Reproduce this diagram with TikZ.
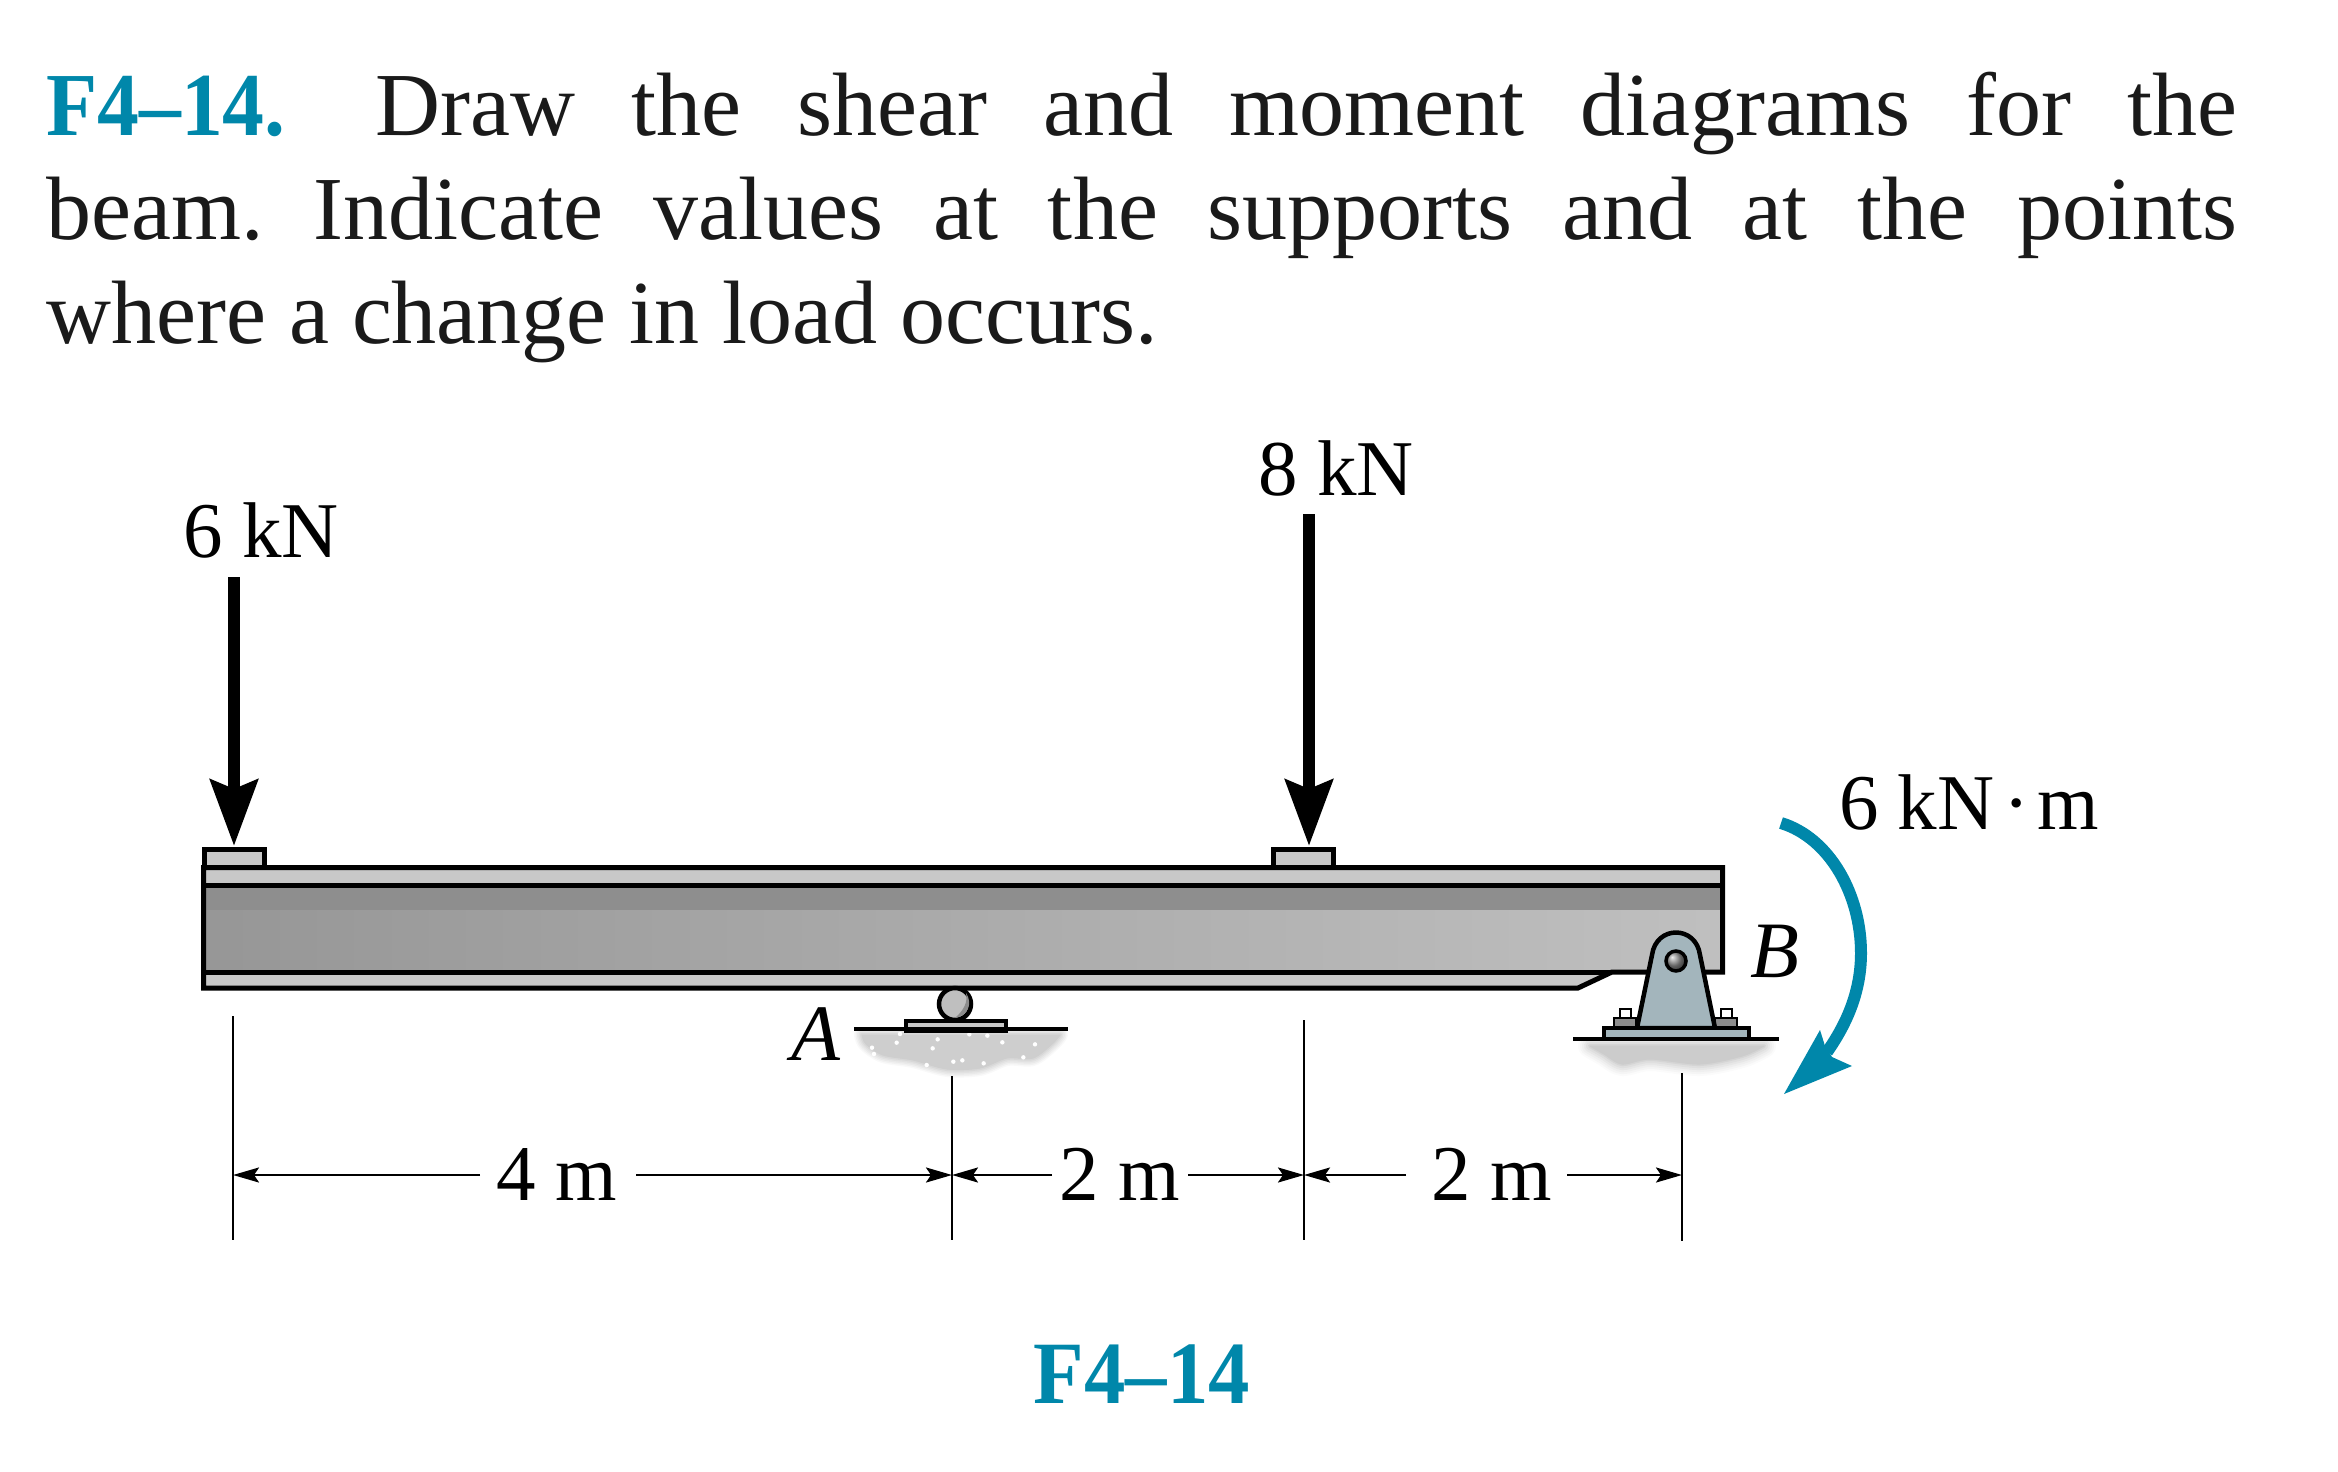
\documentclass[tikz,border=0pt]{standalone}
\usepackage{fontspec}
\setmainfont{Liberation Serif}
\newfontface\boldcond[FakeStretch=0.93]{Liberation Serif Bold}
\usetikzlibrary{arrows.meta,calc}
\definecolor{teal1}{HTML}{0087AA}
\definecolor{ink}{HTML}{1A1A1A}
\definecolor{flange}{HTML}{C8C8C8}
\definecolor{band}{HTML}{8E8E8E}
\definecolor{steel}{HTML}{A3B5BC}
\definecolor{soil}{HTML}{C9C9C9}
\tikzset{
  txt/.style={anchor=base,inner sep=0pt,font=\fontsize{79}{90}\selectfont,text=black},
  titleline/.style={anchor=base west,inner sep=0pt,font=\fontsize{90}{104}\selectfont\frenchspacing,text=ink},
  ital/.style={anchor=base,inner sep=0pt,font=\fontsize{80}{90}\selectfont\itshape,text=black},
  pad/.style={draw=black,line width=4.5pt,fill=flange,inner sep=0pt,anchor=north west},
  outline/.style={draw=black,line width=5pt,line join=miter},
  force/.style={line width=12pt,-{Stealth[length=66pt,width=47pt,inset=9pt]}},
  dimline/.style={line width=2.4pt,-{Stealth[length=26pt,width=15pt,inset=5pt]}},
  ext/.style={line width=2.4pt,draw=black},
}
\begin{document}
\begin{tikzpicture}[x=1pt,y=-1pt]
\useasboundingbox (0,0) rectangle (2338,1472);
% title
\node[titleline] (t1) at (46,135) {\makebox[2191pt][s]{\textcolor{teal1}{\boldcond F4–14.}\hspace{34pt} Draw the shear and moment diagrams for the}};
\node[titleline] (t2) at (46,239) {\makebox[2191pt][s]{beam. Indicate values at the supports and at the points}};
\node[titleline] (t3) at (46,343) {\makebox[1112pt][s]{where a change in load occurs.}};
% ground A, soft edge
\foreach \w/\p in {16/12,13/25,10/40,7/55,4/72,1/90}
  \filldraw[soil!\p,line width=\w pt,line join=round] plot[smooth] coordinates {(862,1035)(866,1044)(883,1055)(913,1060)(947,1069)(980,1068)(1007,1058)(1033,1058)(1052,1044)(1060,1035)} -- cycle;
\foreach \a/\b in {350/368,360/342,276/383,282/402,473/358,458/385,520/425,547/421,568/343,622/347,667/367,765/373,730/412,611/430,440/435}
  \fill[white] ({780+\a/3},{920+\b/3}) circle (2.2);
% ground B, soft edge
\foreach \w/\p in {24/8,20/18,16/30,12/45,8/60,4/78,1/95}
  \filldraw[soil!\p,line width=\w pt,line join=round] plot[smooth] coordinates {(1590,1046)(1604,1054)(1622,1064)(1650,1059)(1700,1064)(1742,1056)(1764,1046)} -- cycle;
\fill[white] (1540,1020) rectangle (1800,1037);
% beam
\fill[flange] (203,867) -- (1723,867) -- (1723,972) -- (1612,972) -- (1578,989) -- (203,989) -- cycle;
\shade[left color=black!41,right color=black!25] (203,885) rectangle (1723,972);
\fill[band] (203,885) rectangle (1723,910);
\draw[outline] (203.5,867.5) -- (1722.5,867.5) -- (1722.5,972) -- (1612,972) -- (1578,988) -- (203.5,988) -- cycle;
\draw[outline] (203.5,885) -- (1722.5,885);
\draw[outline] (203.5,972) -- (1612,972);
% load pads
\node[pad,minimum width=60pt,minimum height=18pt] (padL) at (202,847) {};
\node[pad,minimum width=60pt,minimum height=18pt] (padM) at (1271,847) {};
% forces
\coordinate (fLtop) at (234,577);
\coordinate (fLtip) at (234,846);
\coordinate (fMtop) at (1309,514);
\coordinate (fMtip) at (1309,846);
\draw[force] (fLtop) -- (fLtip);
\draw[force] (fMtop) -- (fMtip);
\node[txt] (l6) at (261,557) {6 kN};
\node[txt] (l8) at (1336,495) {8 kN};
% support A
\node[circle,draw=black,line width=4.5pt,fill=black!25,minimum size=32pt,inner sep=0pt] (ball) at (955,1004) {};
\fill[black!45] (966,993) .. controls (973,1003) and (968,1016) .. (955,1018) .. controls (964,1010) and (968,1002) .. (966,993) -- cycle;
\node[pad,minimum width=100pt,minimum height=10pt,line width=4pt] (plateA) at (904,1019) {};
\draw[line width=4.5pt] (854,1029) -- (1068,1029);
\node[ital] (A) at (816,1060) {A};
% support B
\foreach \x in {1614,1715} {
  \draw[line width=2.5pt,fill=white] (\x+6,1009) rectangle (\x+17,1018);
  \draw[line width=2.5pt,fill=black!45] (\x,1018) rectangle (\x+22,1028);
}
\draw[line width=4.5pt,fill=steel,line join=round] (1637,1028) -- (1652,955) .. controls (1656,925) and (1696,925) .. (1700,955) -- (1715,1028) -- cycle;
\node[circle,draw=black,line width=3.5pt,ball color=black!45,minimum size=20pt,inner sep=0pt] (pin) at (1676,961) {};
\draw[line width=4.5pt,fill=steel] (1604,1028) rectangle (1749,1039);
\draw[line width=4.5pt] (1573,1039) -- (1779,1039);
\node[ital] (B) at (1775,977) {B};
% moment
\coordinate (m0) at (1781,823);
\coordinate (m1) at (1861,953);
\coordinate (m2) at (1827,1052);
\draw[teal1,line width=12pt] (m0) .. controls (1830,838) and (1861,895) .. (m1) .. controls (1861,990) and (1848,1022) .. (m2);
\fill[teal1] (1784,1094) -- (1820,1030) -- (1825,1046) -- (1832,1057) -- (1852,1066) -- cycle;
\node[txt] (lm) at (1969,829) {6\hspace{19pt}kN\hspace{9pt}\textperiodcentered\hspace{8pt}m};
% extension lines
\coordinate (e1t) at (233,1016); \coordinate (e1b) at (233,1240);
\coordinate (e2t) at (952,1076); \coordinate (e2b) at (952,1240);
\coordinate (e3t) at (1304,1020); \coordinate (e3b) at (1304,1240);
\coordinate (e4t) at (1682,1073); \coordinate (e4b) at (1682,1241);
\draw[ext] (e1t) -- (e1b);
\draw[ext] (e2t) -- (e2b);
\draw[ext] (e3t) -- (e3b);
\draw[ext] (e4t) -- (e4b);
% dimensions
\coordinate (d1) at (233,1175); \coordinate (d2) at (952,1175);
\coordinate (d3) at (1304,1175); \coordinate (d4) at (1682,1175);
\node[txt] (dA) at (557,1200) {4 m};
\node[txt] (dB) at (1120,1200) {2 m};
\node[txt] (dC) at (1492,1200) {2 m};
\draw[dimline] (480,1175) -- (d1);
\draw[dimline] (636,1175) -- (d2);
\draw[dimline] (1052,1175) -- (d2);
\draw[dimline] (1188,1175) -- (d3);
\draw[dimline] (1406,1175) -- (d3);
\draw[dimline] (1567,1175) -- (d4);
% caption
\node[anchor=base,inner sep=0pt,font=\fontsize{89}{90}\selectfont\boldcond,text=teal1] (cap) at (1142,1403) {F4–14};
\end{tikzpicture}
\end{document}
